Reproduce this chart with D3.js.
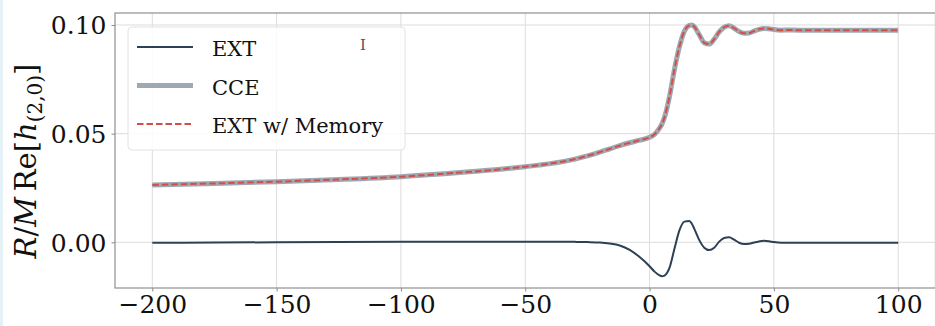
<!DOCTYPE html>
<html>
<head>
<meta charset="utf-8">
<script src="https://cdn.jsdelivr.net/npm/d3@7"></script>
<style>
  html, body { margin: 0; padding: 0; background: #fff; }
  svg { display: block; }
</style>
</head>
<body>
<svg id="chart" width="935" height="326"></svg>
<script>
// ---- data ----
const timeValues = [-200,-175,-150,-125,-100,-75,-60,-50,-40,-30,-25,-20,-16,-12,-8,-4,0,2,4,5,6,8,10,12,14,16,17,18,20,22,24,26,28,30,32,34,36,38,40,42,44,46,48,50,53,56,60,70,80,90,100];
const extValues = [-0.0002,-0.0001,0.0000,0.0001,0.0002,0.0003,0.0003,0.0003,0.0003,0.0002,0.0001,-0.0001,-0.0006,-0.0015,-0.0035,-0.0068,-0.0110,-0.0135,-0.0152,-0.0156,-0.0153,-0.0118,-0.0030,0.0055,0.0095,0.0098,0.0085,0.0062,0.0010,-0.0025,-0.0036,-0.0025,0.0003,0.0020,0.0023,0.0012,-0.0002,-0.0008,-0.0007,-0.0001,0.0004,0.0007,0.0005,0.0001,-0.0002,-0.0002,-0.0002,-0.0002,-0.0002,-0.0002,-0.0002];
const cceValues = [0.0264,0.0271,0.0279,0.0289,0.0302,0.0322,0.0336,0.0348,0.0362,0.0383,0.0398,0.0415,0.0430,0.0445,0.0458,0.0470,0.0483,0.0497,0.0525,0.0545,0.0575,0.0670,0.0795,0.0900,0.0972,0.0998,0.1000,0.0992,0.0955,0.0918,0.0912,0.0935,0.0968,0.0990,0.0996,0.0985,0.0970,0.0962,0.0963,0.0972,0.0980,0.0984,0.0983,0.0979,0.0976,0.0977,0.0976,0.0976,0.0976,0.0976,0.0976];
const memoryValues = [0.0264,0.0271,0.0279,0.0289,0.0302,0.0322,0.0336,0.0348,0.0362,0.0383,0.0398,0.0415,0.0430,0.0445,0.0458,0.0470,0.0483,0.0497,0.0525,0.0545,0.0575,0.0670,0.0795,0.0900,0.0972,0.0998,0.1000,0.0992,0.0955,0.0918,0.0912,0.0935,0.0968,0.0990,0.0996,0.0985,0.0970,0.0962,0.0963,0.0972,0.0980,0.0984,0.0983,0.0979,0.0976,0.0977,0.0976,0.0976,0.0976,0.0976,0.0976];
const xTicks = [-200,-150,-100,-50,0,50,100];
const yTicks = [0.00,0.05,0.10];
const seriesNames = ["EXT","CCE","EXT w/ Memory"];

// ---- layout ----
const svg = d3.select("#chart");
const plot = {left: 115, right: 935.5, top: 13, bottom: 288};
const x = d3.scaleLinear().domain([-215, 115]).range([plot.left, plot.right]);
const y = d3.scaleLinear().domain([-0.02103, 0.10552]).range([plot.bottom, plot.top]);

const serif = "'DejaVu Serif', 'Liberation Serif', serif";

// faint left border of the screenshot
svg.append("rect").attr("x", 0).attr("y", 0).attr("width", 3).attr("height", 326).attr("fill", "#e4f1f7");

// grid
const grid = svg.append("g");
grid.selectAll("line.gx").data(xTicks).join("line")
  .attr("x1", d => x(d)).attr("x2", d => x(d))
  .attr("y1", plot.top).attr("y2", plot.bottom)
  .attr("stroke", "#dcdcdc").attr("stroke-width", 1);
grid.selectAll("line.gy").data(yTicks).join("line")
  .attr("x1", plot.left).attr("x2", plot.right)
  .attr("y1", d => y(d)).attr("y2", d => y(d))
  .attr("stroke", "#dcdcdc").attr("stroke-width", 1);

// axes
const fmtX = d => (d < 0 ? "\u2212" + Math.abs(d) : String(d));
const xAxis = d3.axisBottom(x).tickValues(xTicks).tickFormat(fmtX).tickSize(3.5).tickPadding(4);
const yAxis = d3.axisLeft(y).tickValues(yTicks).tickFormat(d3.format(".2f")).tickSize(3.5).tickPadding(5);

const gx = svg.append("g").attr("transform", `translate(0,${plot.bottom})`).call(xAxis);
const gy = svg.append("g").attr("transform", `translate(${plot.left},0)`).call(yAxis);
[gx, gy].forEach(g => {
  g.select(".domain").remove();
  g.selectAll(".tick line").attr("stroke", "#8a8a8a").attr("stroke-width", 1);
  g.selectAll(".tick text").attr("fill", "#111").attr("font-family", serif).attr("font-size", 25);
});
gx.selectAll(".tick text").attr("dy", "0.71em");
gy.selectAll(".tick text").attr("dy", "0.36em");

// spines
svg.append("rect")
  .attr("x", plot.left).attr("y", plot.top)
  .attr("width", plot.right - plot.left).attr("height", plot.bottom - plot.top)
  .attr("fill", "none").attr("stroke", "#8f8f8f").attr("stroke-width", 1.2);

// lines
const lineGen = vals => d3.line()
  .x((d, i) => x(timeValues[i]))
  .y(d => y(d))
  .curve(d3.curveMonotoneX)(vals);

svg.append("path").attr("d", lineGen(extValues))
  .attr("fill", "none").attr("stroke", "#2e4054").attr("stroke-width", 2);
svg.append("path").attr("d", lineGen(cceValues))
  .attr("fill", "none").attr("stroke", "#9fa8b1").attr("stroke-width", 5).attr("stroke-linejoin", "round");
svg.append("path").attr("d", lineGen(memoryValues))
  .attr("fill", "none").attr("stroke", "#d24f49").attr("stroke-width", 2).attr("stroke-dasharray", "6.5,3");

// legend
const leg = svg.append("g");
leg.append("rect").attr("x", 128).attr("y", 27).attr("width", 277).attr("height", 123).attr("rx", 4)
  .attr("fill", "#fff").attr("fill-opacity", 0.85).attr("stroke", "#e2e2e2").attr("stroke-width", 1);
const legStyles = [
  {stroke: "#2e4054", w: 2, dash: null},
  {stroke: "#9fa8b1", w: 5, dash: null},
  {stroke: "#d24f49", w: 2, dash: "6.5,3"}
];
seriesNames.forEach((name, i) => {
  const cy = 47 + i * 38.5;
  const st = legStyles[i];
  leg.append("line").attr("x1", 137).attr("x2", 193).attr("y1", cy).attr("y2", cy)
    .attr("stroke", st.stroke).attr("stroke-width", st.w).attr("stroke-dasharray", st.dash);
  leg.append("text").attr("x", 212).attr("y", cy + 9).text(name)
    .attr("font-family", serif).attr("font-size", 21).attr("fill", "#111");
});

// small I-beam cursor artifact in the reference
svg.append("text").attr("x", 363).attr("y", 50).attr("text-anchor", "middle")
  .attr("font-family", serif).attr("font-size", 15).attr("fill", "#555").text("I");

// y title
const yt = svg.append("text")
  .attr("transform", "translate(36,161) rotate(-90)")
  .attr("text-anchor", "middle")
  .attr("font-family", serif).attr("font-size", 29).attr("fill", "#111");
yt.append("tspan").attr("font-style", "italic").text("R");
yt.append("tspan").text("/");
yt.append("tspan").attr("font-style", "italic").text("M");
yt.append("tspan").text("\u2009Re[");
yt.append("tspan").attr("font-style", "italic").text("h");
yt.append("tspan").attr("font-size", 20).attr("dy", 6).text("(2,0)");
yt.append("tspan").attr("dy", -6).text("]");
</script>
</body>
</html>
